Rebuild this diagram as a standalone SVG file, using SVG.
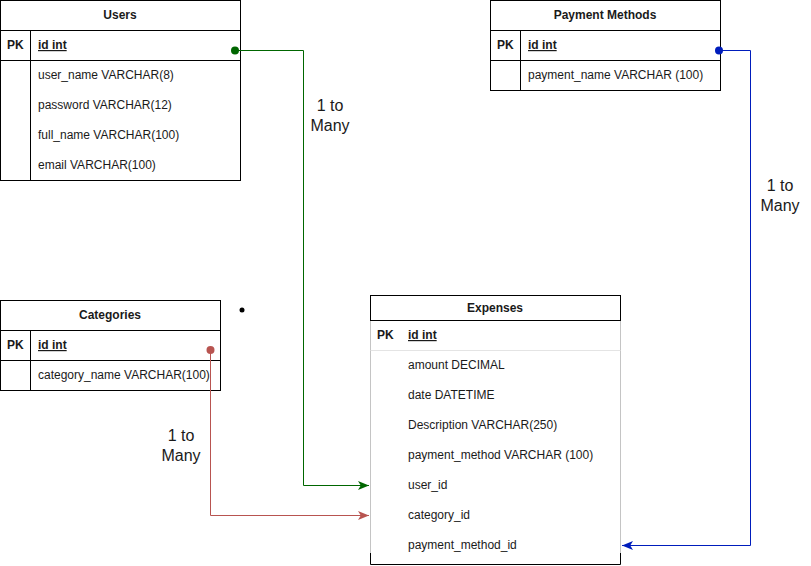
<svg xmlns="http://www.w3.org/2000/svg" width="811" height="566" viewBox="0 0 811 566">
<defs>
<style>
text{font-family:"Liberation Sans",Arial,sans-serif;font-size:12px;fill:#1a1a1a}
.h{font-weight:bold;text-anchor:middle}
.pk{font-weight:bold}
.u{font-weight:bold;text-decoration:underline}
.b{fill:#fff;stroke:#000;stroke-width:1}
.l{stroke:#000;stroke-width:1;fill:none}
.g{stroke:#c4c4c4;stroke-width:1;fill:none}
.lbl{font-size:16px;text-anchor:middle}
</style>
<marker id="ag" viewBox="0 0 10 10" refX="10" refY="5" markerWidth="11" markerHeight="11" markerUnits="userSpaceOnUse" orient="auto"><path d="M0,1 L10,5 L0,9 L2.5,5 Z" fill="#006600"/></marker>
<marker id="ar" viewBox="0 0 10 10" refX="10" refY="5" markerWidth="11" markerHeight="11" markerUnits="userSpaceOnUse" orient="auto"><path d="M0,1 L10,5 L0,9 L2.5,5 Z" fill="#b85450"/></marker>
<marker id="ab" viewBox="0 0 10 10" refX="10" refY="5" markerWidth="11" markerHeight="11" markerUnits="userSpaceOnUse" orient="auto"><path d="M0,1 L10,5 L0,9 L2.5,5 Z" fill="#001DBC"/></marker>
</defs>
<rect width="811" height="566" fill="#fff"/>

<g id="users">
<rect class="b" x="0.5" y="0.5" width="240" height="180"/>
<path class="l" d="M0.5,30.5H240.5M0.5,60.5H240.5M30.5,30.5V180.5"/>
<text class="h" x="120" y="19">Users</text>
<text class="pk" x="7" y="49">PK</text>
<text class="u" x="38" y="49">id int</text>
<text x="38" y="79">user_name VARCHAR(8)</text>
<text x="38" y="109">password VARCHAR(12)</text>
<text x="38" y="139">full_name VARCHAR(100)</text>
<text x="38" y="169">email VARCHAR(100)</text>
</g>

<g id="payment-methods">
<rect class="b" x="490.5" y="0.5" width="230" height="90"/>
<path class="l" d="M490.5,30.5H720.5M490.5,60.5H720.5M520.5,30.5V90.5"/>
<text class="h" x="605" y="19">Payment Methods</text>
<text class="pk" x="497" y="49">PK</text>
<text class="u" x="528" y="49">id int</text>
<text x="528" y="79">payment_name VARCHAR (100)</text>
</g>

<g id="categories">
<rect class="b" x="0.5" y="300.5" width="220" height="90"/>
<path class="l" d="M0.5,330.5H220.5M0.5,360.5H220.5M30.5,330.5V390.5"/>
<text class="h" x="110" y="319">Categories</text>
<text class="pk" x="7" y="349">PK</text>
<text class="u" x="38" y="349">id int</text>
<text x="38" y="379">category_name VARCHAR(100)</text>
</g>

<g id="expenses">
<rect x="370.5" y="320.5" width="250" height="244" fill="#fff"/>
<path class="g" d="M370.5,320.5V560.5M620.5,320.5V560.5"/>
<path d="M370.5,350.5H620.5" stroke="#e4e4e4" stroke-width="1"/>
<path class="l" d="M370.5,553V564.5H620.5V553"/>
<rect class="b" x="370.5" y="295.5" width="250" height="25"/>
<text class="h" x="495" y="312">Expenses</text>
<text class="pk" x="377" y="339">PK</text>
<text class="u" x="408" y="339">id int</text>
<text x="408" y="369">amount DECIMAL</text>
<text x="408" y="399">date DATETIME</text>
<text x="408" y="429">Description VARCHAR(250)</text>
<text x="408" y="459">payment_method VARCHAR (100)</text>
<text x="408" y="489">user_id</text>
<text x="408" y="519">category_id</text>
<text x="408" y="549">payment_method_id</text>
</g>

<g id="connectors">
<path d="M235,50.5H303.5V485.5H369" fill="none" stroke="#006600" stroke-width="1" marker-end="url(#ag)"/>
<circle cx="235" cy="50.5" r="4" fill="#006600"/>
<path d="M210.5,350V515.5H369" fill="none" stroke="#b85450" stroke-width="1" marker-end="url(#ar)"/>
<circle cx="210.5" cy="350" r="4" fill="#b85450"/>
<path d="M719,50.5H750.5V545.5H622" fill="none" stroke="#001DBC" stroke-width="1" marker-end="url(#ab)"/>
<circle cx="719" cy="50.5" r="4" fill="#001DBC"/>
</g>

<g id="labels">
<text class="lbl" x="330" y="111">1 to</text>
<text class="lbl" x="330" y="131">Many</text>
<text class="lbl" x="780" y="191">1 to</text>
<text class="lbl" x="780" y="211">Many</text>
<text class="lbl" x="181" y="441">1 to</text>
<text class="lbl" x="181" y="461">Many</text>
</g>
<circle cx="242" cy="310" r="2.5" fill="#000"/>
</svg>
